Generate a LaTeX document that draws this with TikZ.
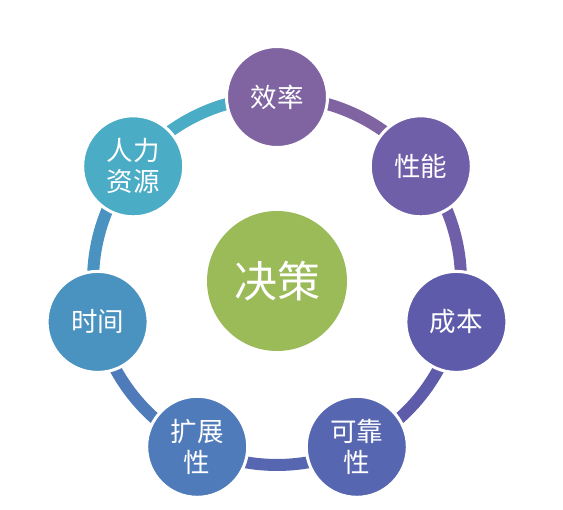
\documentclass[tikz,border=0pt]{standalone}
\usepackage{fontspec}
\setmainfont{Noto Sans CJK SC}
\usetikzlibrary{calc}
\definecolor{cXiao}{HTML}{8064A2}
\definecolor{cXing}{HTML}{6F5FA8}
\definecolor{cCheng}{HTML}{5F5BAB}
\definecolor{cKe}{HTML}{5766B0}
\definecolor{cKuo}{HTML}{4F7BBA}
\definecolor{cShi}{HTML}{4A92C0}
\definecolor{cRen}{HTML}{4BACC6}
\definecolor{cCenter}{HTML}{9BBB59}
\begin{document}
\begin{tikzpicture}[x=1pt,y=-1pt,
  ringarc/.style={line width=12pt},
  bubble/.style={circle,draw=white,line width=3pt,minimum size=101pt,inner sep=0pt,
    text=white,align=center,font=\fontsize{26.5}{31}\selectfont},
  hub/.style={circle,fill=cCenter,minimum size=140pt,inner sep=0pt,text=white,
    font=\fontsize{43}{46}\selectfont}]
\useasboundingbox[fill=white] (0,0) rectangle (563,510);
\coordinate (O) at (277,281);
% arcs (clockwise, start color)
\foreach \a/\c in {90/cXiao, 38.571/cXing, -12.857/cCheng, -64.286/cKe, -115.714/cKuo, -167.143/cShi, 141.429/cRen}{
  \draw[ringarc,draw=\c] ($(O)+(\a:184pt)$) arc[start angle=\a, delta angle=-51.43, radius=184pt];
}
\node[hub] (c) at (O) {决策};
\node[bubble,fill=cXiao] (n1) at ($(O)+(0,-184)$) {效率};
\node[bubble,fill=cXing] (n2) at ($(O)+(143.8,-114.7)$) {性能};
\node[bubble,fill=cCheng] (n3) at ($(O)+(179.4,40.9)$) {成本};
\node[bubble,fill=cKe] (n4) at ($(O)+(79.8,165.8)$) {可靠\\性};
\node[bubble,fill=cKuo] (n5) at ($(O)+(-79.8,165.8)$) {扩展\\性};
\node[bubble,fill=cShi] (n6) at ($(O)+(-179.4,40.9)$) {时间};
\node[bubble,fill=cRen] (n7) at ($(O)+(-143.8,-114.7)$) {人力\\资源};
\end{tikzpicture}
\end{document}
